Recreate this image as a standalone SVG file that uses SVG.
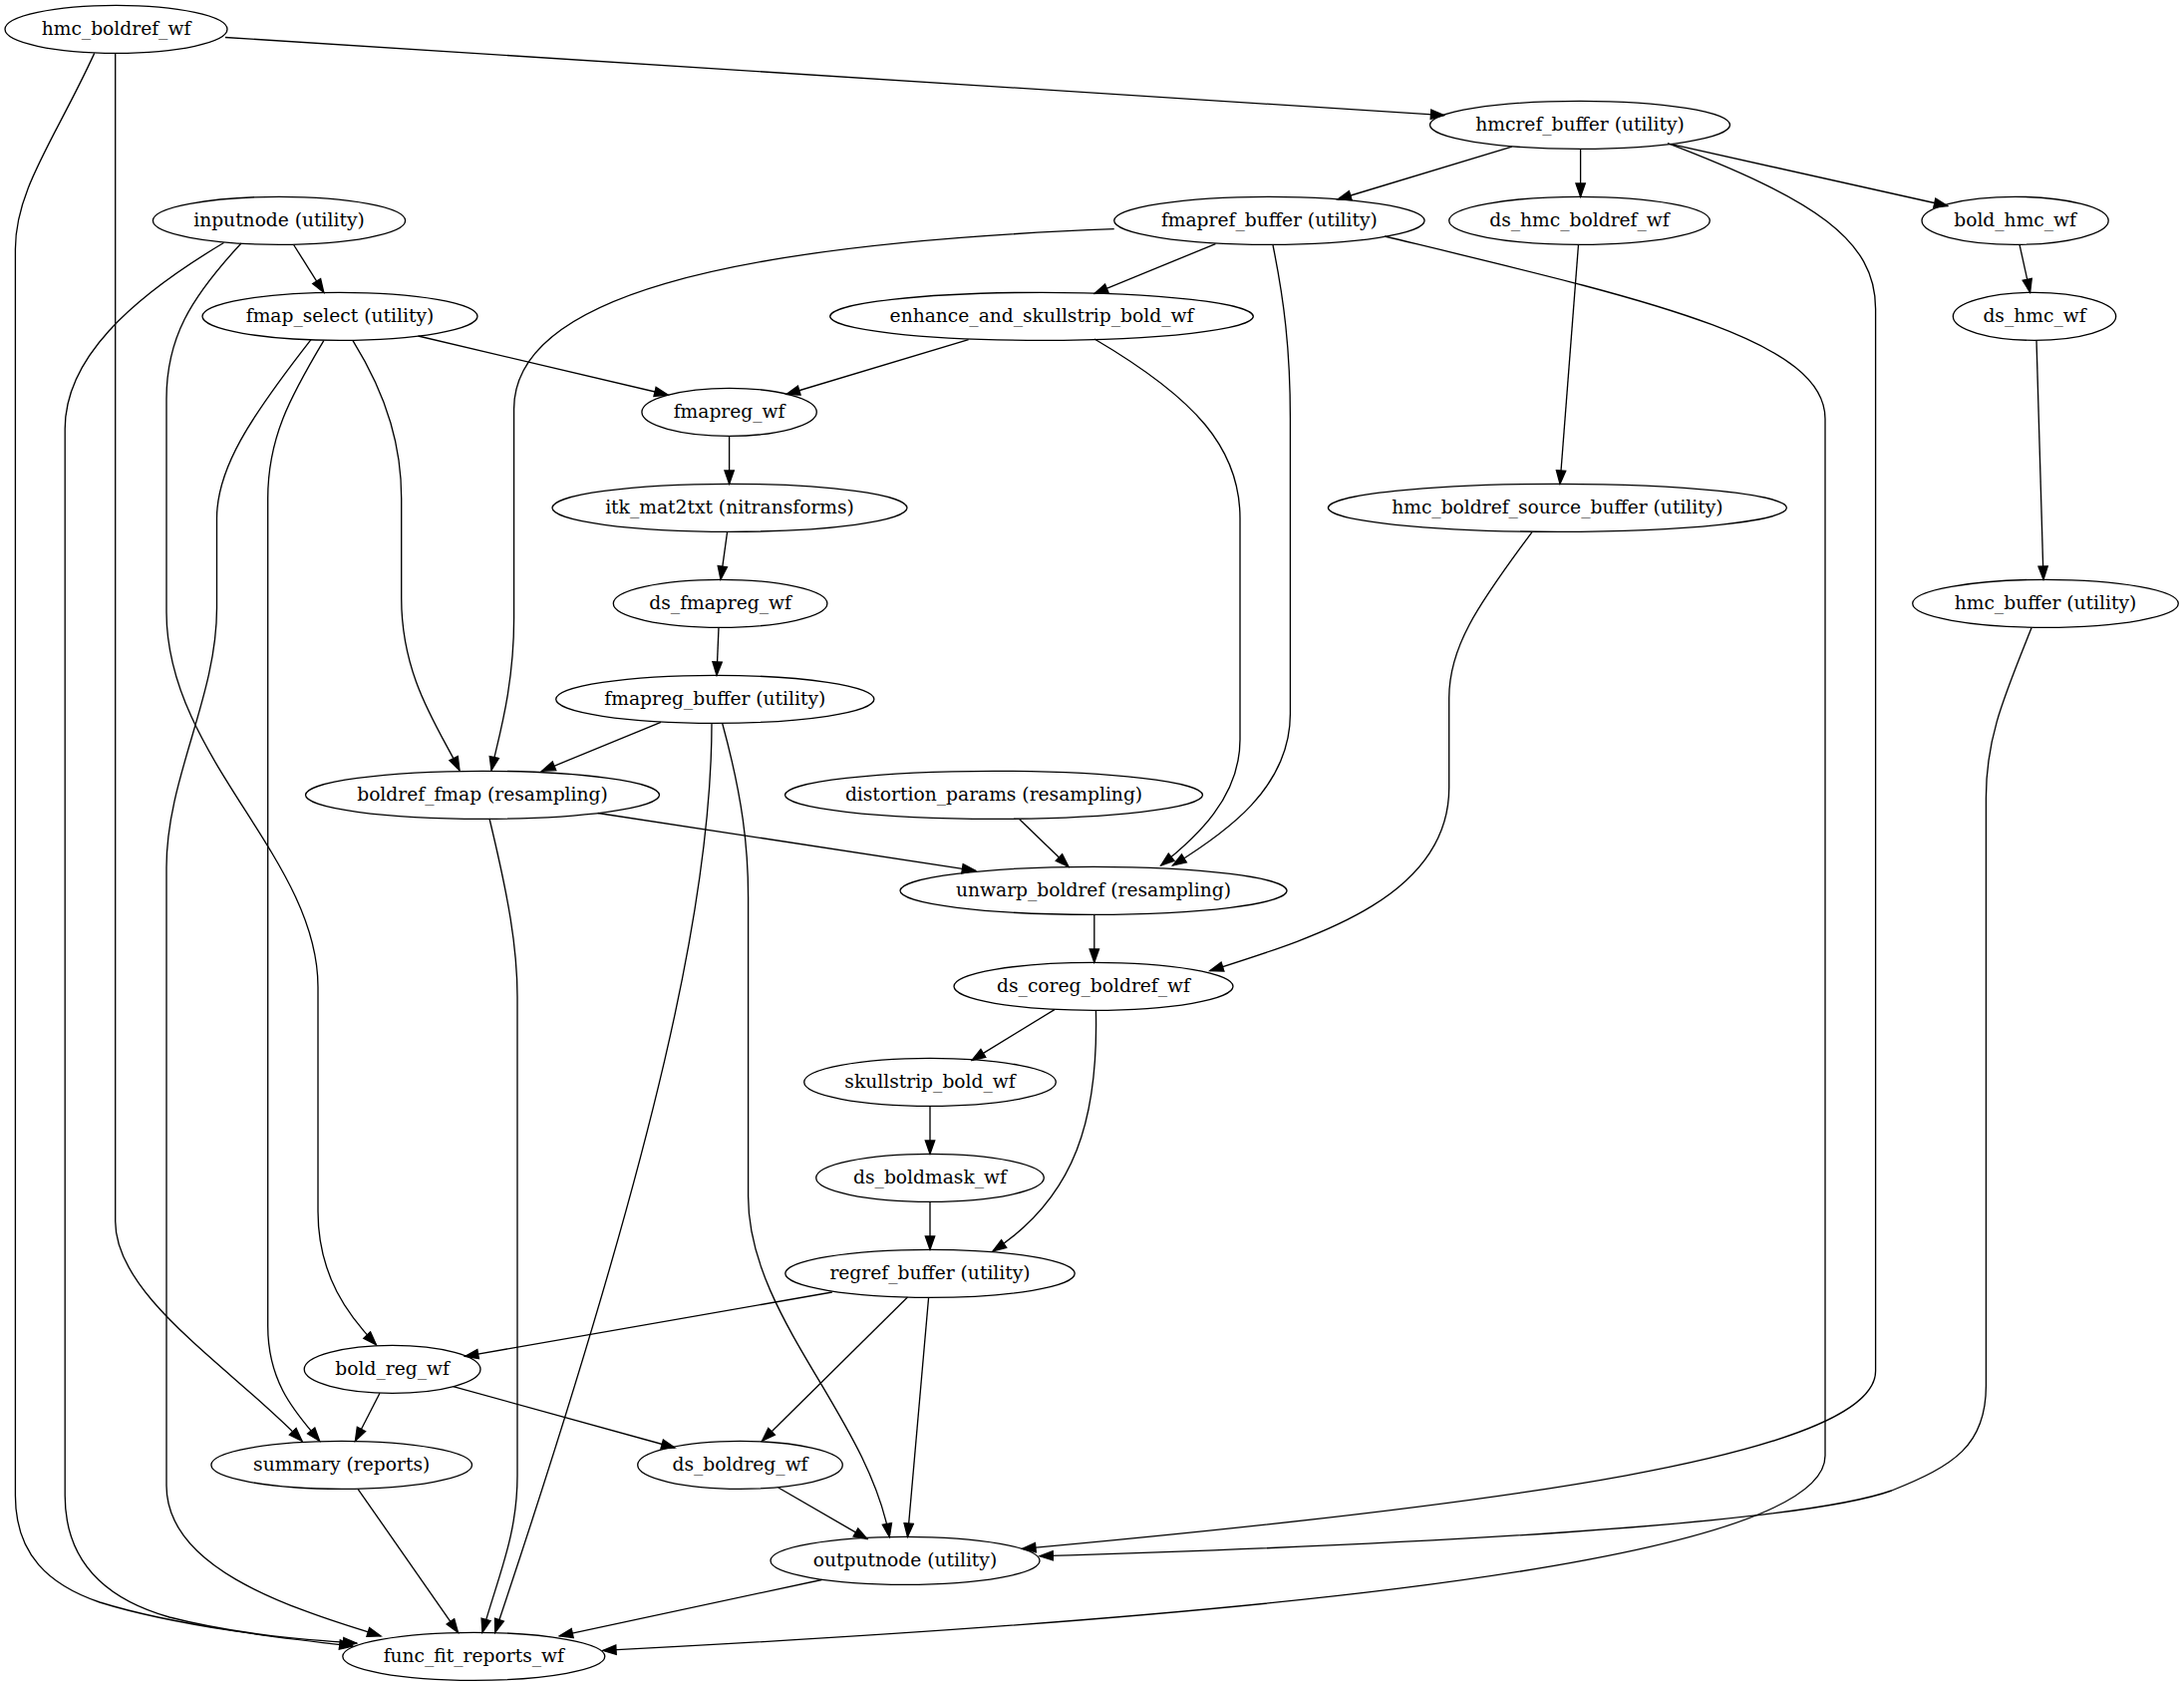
<svg xmlns="http://www.w3.org/2000/svg" width="2191" height="1691" viewBox="0 0 2191 1691">
<style>
.node ellipse{fill:none;stroke:#000;stroke-width:1.33}
.node text{font-family:"DejaVu Serif","Liberation Serif",serif;font-size:18.67px;text-anchor:middle;fill:#000}
.edges path{fill:none;stroke:#000;stroke-width:1.33;marker-end:url(#arr)}
</style>
<defs>
<marker id="arr" viewBox="-1 -1 16 12" refX="13.33" refY="5" markerWidth="16" markerHeight="12" orient="auto" markerUnits="userSpaceOnUse">
<path d="M0,0.33 L13.33,5 L0,9.67 z" fill="#000" stroke="#000" stroke-width="1.33"/>
</marker>
</defs>
<rect width="2191" height="1691" fill="#fff"/>
<g class="edges">
<path d="M226,37.5 L1448.8,115.6"/>
<path d="M115.7,53.4 L115.7,1225 C115.7,1300 230,1370 303,1445.3"/>
<path d="M94.7,53.4 C55,140 15.4,190 15.4,250 L15.4,1500 C15.4,1560 50,1590 100,1607 C180,1632 300,1645 354,1651"/>
<path d="M1516.8,147.2 L1342,200"/>
<path d="M1585.6,149.3 L1585.6,197.3"/>
<path d="M1676.7,144.7 L1953.8,206.5"/>
<path d="M1673,143.6 C1820,200 1881.6,240 1881.6,310 L1881.6,1375 C1881.6,1460 1500,1510 1025.6,1553.4"/>
<path d="M294.6,245.5 L324.8,293.3"/>
<path d="M242,244 C190,300 167,340 167,400 L167,614 C167,760 319,860 319,990 L319,1215 C319,1280 350,1320 377.4,1348.7"/>
<path d="M224.5,243.5 C130,300 65.2,360 65.2,430 L65.2,1500 C65.2,1570 110,1605 170,1622 C240,1640 310,1645 357.8,1648"/>
<path d="M1219.4,244.6 L1098,294.4"/>
<path d="M1117.7,229.7 C720,245 515.6,300 515.6,410 L515.6,620 C515.6,690 500,740 493,772.6"/>
<path d="M1277,246 C1288,300 1294.4,350 1294.4,420 L1294.4,716 C1294.4,790 1230,835 1176.6,868"/>
<path d="M1389,237 C1650,300 1831,340 1831,420 L1831,1460 C1831,1580 1100,1630 604.7,1655.4"/>
<path d="M1583.5,245.3 L1565,485.3"/>
<path d="M2026,245.3 L2036.6,293.3"/>
<path d="M419.5,337 L670,396"/>
<path d="M354,341.7 C390,400 402.7,450 402.7,500 L402.7,600 C402.7,680 440,730 461,772.6"/>
<path d="M324.8,341.7 C290,400 268.7,440 268.7,500 L268.7,1330 C268.7,1390 300,1420 320.6,1445.3"/>
<path d="M312,340.6 C250,420 217.5,470 217.5,520 L217.5,610 C217.5,700 167,780 167,870 L167,1490 C167,1570 280,1610 382,1640.8"/>
<path d="M971.6,340.6 L789,395.5"/>
<path d="M1098,340 C1200,400 1244,450 1244,520 L1244,741.8 C1244,800 1200,840 1164.7,868"/>
<path d="M2043,341.3 L2050,581.3"/>
<path d="M731.6,437.3 L731.6,485.3"/>
<path d="M729.6,533.3 L723,581.3"/>
<path d="M1537,533.6 C1480,610 1453.7,650 1453.7,700 L1453.7,790 C1453.7,900 1320,940 1213.8,973.7"/>
<path d="M721,629.3 L719,677.3"/>
<path d="M2038,629.8 C2010,700 1992.4,740 1992.4,800 L1992.4,1390 C1992.4,1450 1960,1470 1897.7,1495 C1800,1530 1400,1550 1043,1560.7"/>
<path d="M663,724.3 L543.7,773.3"/>
<path d="M714,725.3 C714,900 660,1150 496.7,1637.3"/>
<path d="M724.6,725.3 C745,800 750.6,850 750.6,900 L750.6,1200 C750.6,1320 870,1420 892.3,1541.5"/>
<path d="M599.8,815.5 L978.6,873.3"/>
<path d="M491,821 C510,900 519,950 519,1000 L519,1480 C519,1540 500,1580 484,1637.3"/>
<path d="M1022.8,821.7 L1072,869.3"/>
<path d="M1097.8,917.3 L1097.8,965.3"/>
<path d="M1057.9,1012.6 L975,1063.4"/>
<path d="M1099.4,1013.3 C1102,1120 1080,1200 996,1254.8"/>
<path d="M933,1109.3 L933,1157.3"/>
<path d="M933,1205.3 L933,1253.3"/>
<path d="M834.8,1296 L466.5,1360.4"/>
<path d="M910.5,1301 L764.6,1445.2"/>
<path d="M931.6,1301.3 L910.5,1541.3"/>
<path d="M381,1397.3 L356.4,1445.3"/>
<path d="M454.6,1390.6 L677,1452"/>
<path d="M359,1493.3 L459.5,1637.3"/>
<path d="M780.8,1492 L870,1543.6"/>
<path d="M824.3,1584.5 L561.2,1640.8"/>
</g>
<g id="hmc_boldref_wf" class="node"><ellipse cx="116.5" cy="29.33" rx="111.5" ry="24"/><text x="116.5" y="34.93">hmc_boldref_wf</text></g>
<g id="hmcref_buffer" class="node"><ellipse cx="1585" cy="125.33" rx="150.5" ry="24"/><text x="1585" y="130.93">hmcref_buffer (utility)</text></g>
<g id="inputnode" class="node"><ellipse cx="280" cy="221.33" rx="126.6" ry="24"/><text x="280" y="226.93">inputnode (utility)</text></g>
<g id="fmapref_buffer" class="node"><ellipse cx="1273.4" cy="221.33" rx="155.7" ry="24"/><text x="1273.4" y="226.93">fmapref_buffer (utility)</text></g>
<g id="ds_hmc_boldref_wf" class="node"><ellipse cx="1584.5" cy="221.33" rx="130.8" ry="24"/><text x="1584.5" y="226.93">ds_hmc_boldref_wf</text></g>
<g id="bold_hmc_wf" class="node"><ellipse cx="2021.6" cy="221.33" rx="93.6" ry="24"/><text x="2021.6" y="226.93">bold_hmc_wf</text></g>
<g id="fmap_select" class="node"><ellipse cx="341" cy="317.33" rx="138" ry="24"/><text x="341" y="322.93">fmap_select (utility)</text></g>
<g id="enhance_and_skullstrip_bold_wf" class="node"><ellipse cx="1045" cy="317.33" rx="212.3" ry="24"/><text x="1045" y="322.93">enhance_and_skullstrip_bold_wf</text></g>
<g id="ds_hmc_wf" class="node"><ellipse cx="2041" cy="317.33" rx="81.7" ry="24"/><text x="2041" y="322.93">ds_hmc_wf</text></g>
<g id="fmapreg_wf" class="node"><ellipse cx="731.6" cy="413.33" rx="87.7" ry="24"/><text x="731.6" y="418.93">fmapreg_wf</text></g>
<g id="itk_mat2txt" class="node"><ellipse cx="732" cy="509.33" rx="178" ry="24"/><text x="732" y="514.93">itk_mat2txt (nitransforms)</text></g>
<g id="hmc_boldref_source_buffer" class="node"><ellipse cx="1562.4" cy="509.33" rx="230" ry="24"/><text x="1562.4" y="514.93">hmc_boldref_source_buffer (utility)</text></g>
<g id="ds_fmapreg_wf" class="node"><ellipse cx="722.6" cy="605.33" rx="107.3" ry="24"/><text x="722.6" y="610.93">ds_fmapreg_wf</text></g>
<g id="hmc_buffer" class="node"><ellipse cx="2052" cy="605.33" rx="133.3" ry="24"/><text x="2052" y="610.93">hmc_buffer (utility)</text></g>
<g id="fmapreg_buffer" class="node"><ellipse cx="717.3" cy="701.33" rx="159.6" ry="24"/><text x="717.3" y="706.93">fmapreg_buffer (utility)</text></g>
<g id="boldref_fmap" class="node"><ellipse cx="484" cy="797.33" rx="177.5" ry="24"/><text x="484" y="802.93">boldref_fmap (resampling)</text></g>
<g id="distortion_params" class="node"><ellipse cx="997" cy="797.33" rx="209.5" ry="24"/><text x="997" y="802.93">distortion_params (resampling)</text></g>
<g id="unwarp_boldref" class="node"><ellipse cx="1097" cy="893.33" rx="194" ry="24"/><text x="1097" y="898.93">unwarp_boldref (resampling)</text></g>
<g id="ds_coreg_boldref_wf" class="node"><ellipse cx="1097" cy="989.33" rx="140" ry="24"/><text x="1097" y="994.93">ds_coreg_boldref_wf</text></g>
<g id="skullstrip_bold_wf" class="node"><ellipse cx="933" cy="1085.33" rx="126.3" ry="24"/><text x="933" y="1090.93">skullstrip_bold_wf</text></g>
<g id="ds_boldmask_wf" class="node"><ellipse cx="933" cy="1181.33" rx="114.3" ry="24"/><text x="933" y="1186.93">ds_boldmask_wf</text></g>
<g id="regref_buffer" class="node"><ellipse cx="933" cy="1277.33" rx="145.2" ry="24"/><text x="933" y="1282.93">regref_buffer (utility)</text></g>
<g id="bold_reg_wf" class="node"><ellipse cx="393.6" cy="1373.33" rx="88.4" ry="24"/><text x="393.6" y="1378.93">bold_reg_wf</text></g>
<g id="summary" class="node"><ellipse cx="342.7" cy="1469.33" rx="130.8" ry="24"/><text x="342.7" y="1474.93">summary (reports)</text></g>
<g id="ds_boldreg_wf" class="node"><ellipse cx="742.5" cy="1469.33" rx="102.8" ry="24"/><text x="742.5" y="1474.93">ds_boldreg_wf</text></g>
<g id="outputnode" class="node"><ellipse cx="908" cy="1565.33" rx="135" ry="24"/><text x="908" y="1570.93">outputnode (utility)</text></g>
<g id="func_fit_reports_wf" class="node"><ellipse cx="475.3" cy="1661.33" rx="131.5" ry="24"/><text x="475.3" y="1666.93">func_fit_reports_wf</text></g>
</svg>
